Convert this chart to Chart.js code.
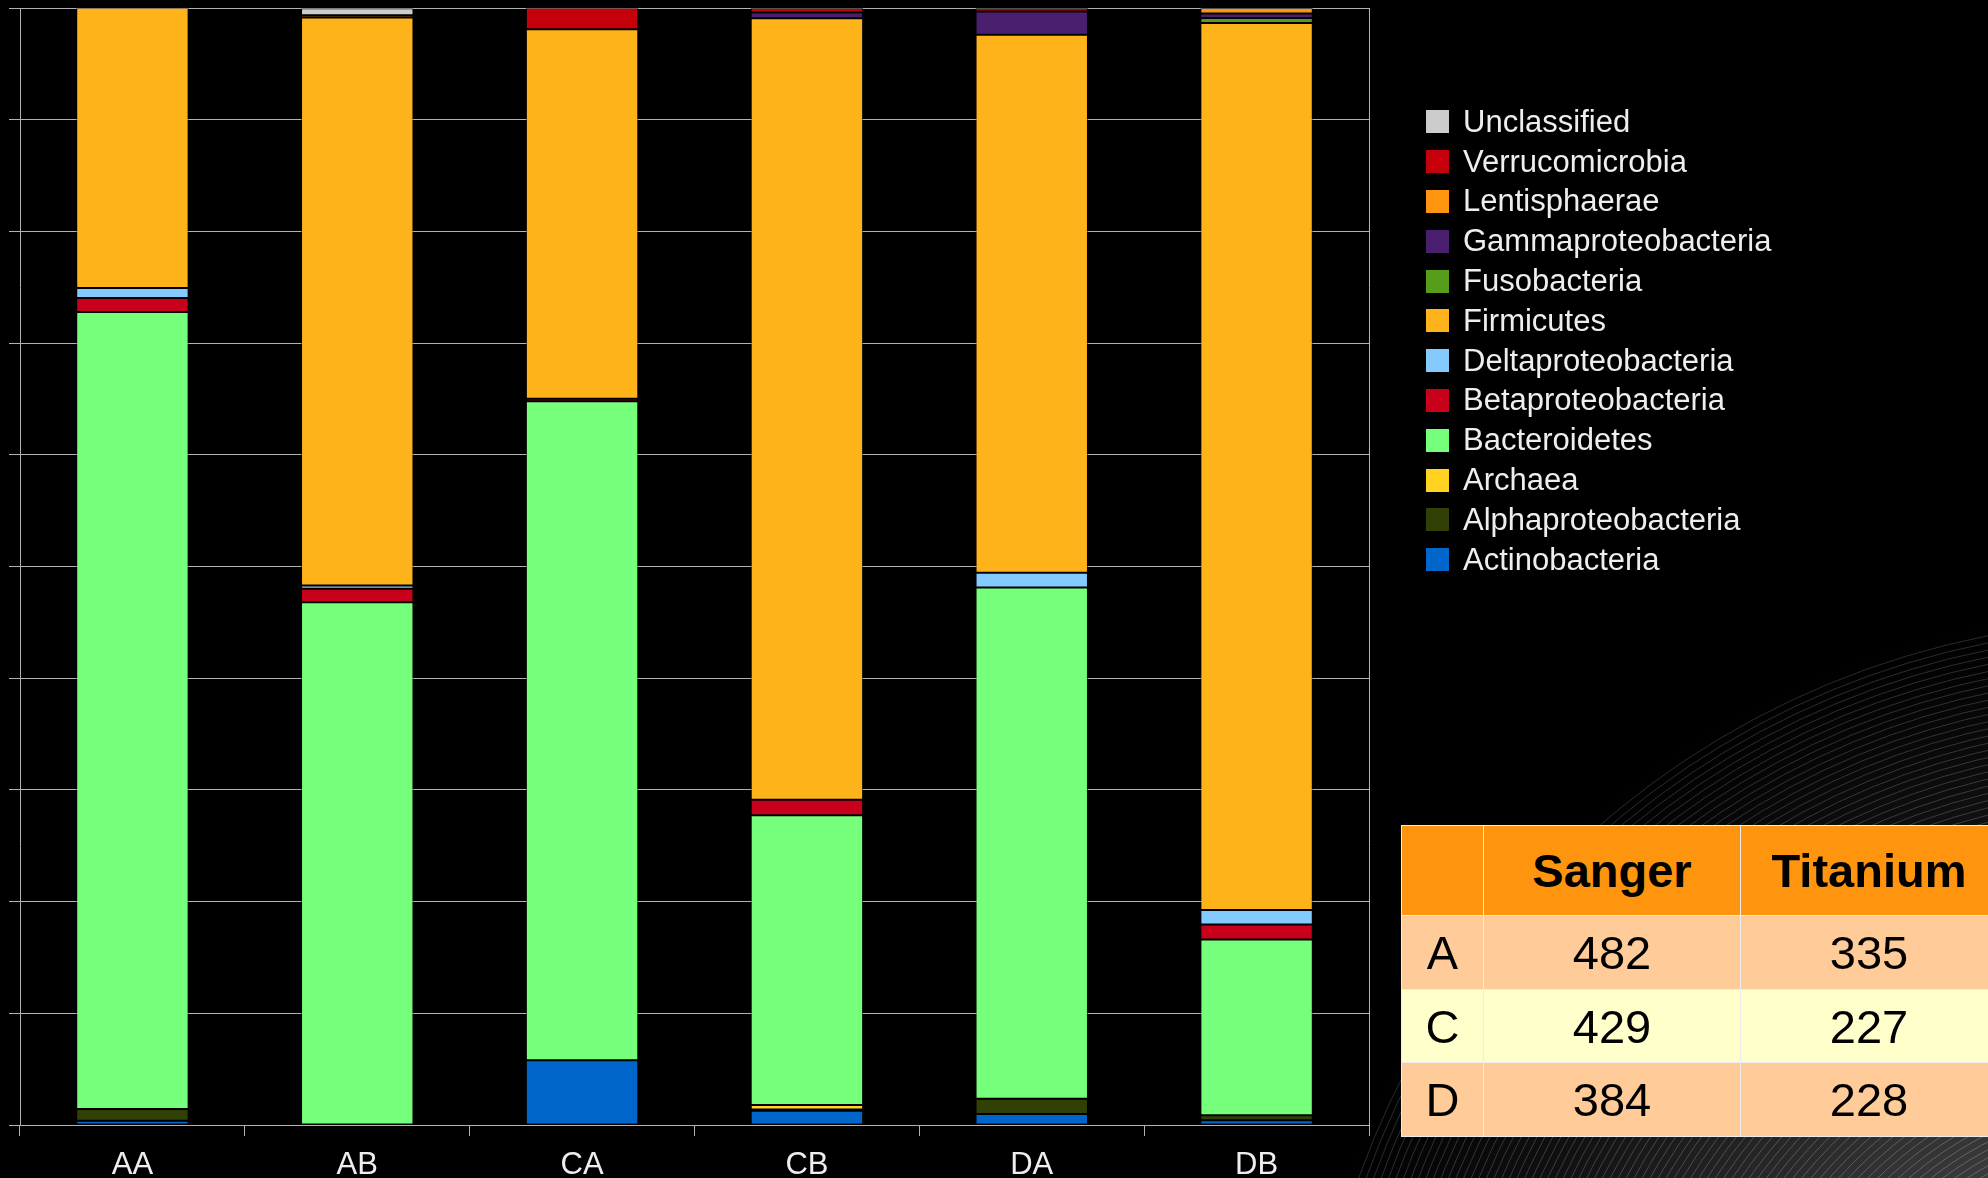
<!DOCTYPE html>
<html>
<head>
<meta charset="utf-8">
<title>Phylum composition</title>
<script src="https://cdn.jsdelivr.net/npm/chart.js@4.4.1/dist/chart.umd.min.js"></script>
<style>
  html, body { margin: 0; padding: 0; background: #000; }
  body { width: 1988px; height: 1178px; position: relative; overflow: hidden; font-family: "Liberation Sans", Arial, sans-serif; }
  #decor { position: absolute; left: 0; top: 0; }
  #chart-wrap { position: absolute; left: 0; top: 0; width: 1400px; height: 1178px; }
  #legend { position: absolute; left: 1426px; top: 102px; color: #eeeeee; font-size: 31px; }
  #legend .row { display: flex; align-items: center; height: 39.8px; white-space: nowrap; }
  #legend .box { width: 23px; height: 23px; margin-right: 14px; flex-shrink: 0; }
  #counts { position: absolute; left: 1401px; top: 825px; width: 596px; table-layout: fixed; border-collapse: collapse; font-size: 47px; color: #000; }
  #counts td, #counts th { border: 1px solid #ececec; padding: 0; text-align: center; overflow: hidden; white-space: nowrap; }
  #counts th { background: #ff950e; font-weight: bold; height: 89px; }
  #counts tr.odd td { background: #ffcc99; }
  #counts tr.even td { background: #ffffcc; }
</style>
</head>
<body>
<canvas id="decor" width="1988" height="1178"></canvas>
<div id="chart-wrap"><canvas id="chart" width="1400" height="1178"></canvas></div>
<div id="legend"></div>
<table id="counts"></table>
<script>
  "use strict";

  // ─── Data (percent of reads per sample) ────────────────────────────────────
  const categories = ["AA", "AB", "CA", "CB", "DA", "DB"];

  const actinobacteria      = [0.38, 0,     5.8,   1.28,  0.98,  0.42];
  const alphaproteobacteria = [1.05, 0,     0,     0.1,   1.37,  0.45];
  const archaea             = [0,    0,     0,     0.42,  0,     0];
  const bacteroidetes       = [71.35, 46.8, 59.0,  25.93, 45.78, 15.74];
  const betaproteobacteria  = [1.25, 1.2,   0.22,  1.38,  0,     1.34];
  const deltaproteobacteria = [0.9,  0.3,   0,     0,     1.31,  1.3];
  const firmicutes          = [25.1, 50.85, 33.08, 69.97, 48.16, 79.41];
  const fusobacteria        = [0,    0,     0,     0,     0,     0.45];
  const gammaproteobacteria = [0,    0,     0,     0.51,  2.09,  0.4];
  const lentisphaerae       = [0,    0.2,   0,     0,     0,     0.49];
  const verrucomicrobia     = [0,    0,     1.92,  0.42,  0.3,   0];
  const unclassified        = [0,    0.63,  0,     0,     0,     0];

  // read counts table
  const tableColumns = ["Sanger", "Titanium"];
  const tableRows = ["A", "C", "D"];
  const sangerCounts = [482, 429, 384];
  const titaniumCounts = [335, 227, 228];

  // bottom → top stacking order
  const series = [
    { label: "Actinobacteria",      data: actinobacteria,      color: "#0066cc" },
    { label: "Alphaproteobacteria", data: alphaproteobacteria, color: "#314004" },
    { label: "Archaea",             data: archaea,             color: "#ffd320" },
    { label: "Bacteroidetes",       data: bacteroidetes,       color: "#76ff7a" },
    { label: "Betaproteobacteria",  data: betaproteobacteria,  color: "#c9001b" },
    { label: "Deltaproteobacteria", data: deltaproteobacteria, color: "#83caff" },
    { label: "Firmicutes",          data: firmicutes,          color: "#ffb31a" },
    { label: "Fusobacteria",        data: fusobacteria,        color: "#579d1c" },
    { label: "Gammaproteobacteria", data: gammaproteobacteria, color: "#4b1f6f" },
    { label: "Lentisphaerae",       data: lentisphaerae,       color: "#ff950e" },
    { label: "Verrucomicrobia",     data: verrucomicrobia,     color: "#c5000b" },
    { label: "Unclassified",        data: unclassified,        color: "#cccccc" },
  ];

  // ─── Background swirl ──────────────────────────────────────────────────────
  (function drawDecor() {
    const c = document.getElementById("decor").getContext("2d");
    const cx = 2150, cy = 1460;
    const g = c.createRadialGradient(cx, cy, 200, cx, cy, 850);
    g.addColorStop(0, "#4a4a4a");
    g.addColorStop(0.35, "#2e2e2e");
    g.addColorStop(0.7, "#111");
    g.addColorStop(1, "#000");
    c.fillStyle = g;
    c.fillRect(0, 0, 1988, 1178);
    c.lineWidth = 1;
    for (let r = 840; r > 200; r -= 7) {
      c.strokeStyle = "rgba(210,210,210," + (0.2 + 0.12 * (840 - r) / 640) + ")";
      c.beginPath();
      c.arc(cx, cy, r, 0, Math.PI * 2);
      c.stroke();
    }
  })();

  // ─── Chart ─────────────────────────────────────────────────────────────────
  Chart.defaults.font.family = "'Liberation Sans', Arial, sans-serif";
  const gridColor = "#b3b3b3";

  new Chart(document.getElementById("chart"), {
    type: "bar",
    data: {
      labels: categories,
      datasets: series.map((s) => ({
        label: s.label,
        data: s.data,
        backgroundColor: s.color,
        borderColor: "rgba(0,0,0,0.55)",
        borderWidth: 1,
        borderSkipped: false,
        barPercentage: 0.5,
        categoryPercentage: 1,
      })),
    },
    options: {
      responsive: false,
      animation: false,
      layout: { padding: { top: 8, left: 9, right: 31, bottom: 0 } },
      plugins: { legend: { display: false }, tooltip: { enabled: false } },
      scales: {
        x: {
          stacked: true,
          grid: { color: gridColor, drawOnChartArea: false, tickLength: 11, offset: true },
          border: { color: gridColor },
          ticks: { color: "#eeeeee", font: { size: 31 }, padding: 11 },
          afterFit: (s) => { s.height = 53; },
        },
        y: {
          stacked: true,
          min: 0,
          max: 100,
          ticks: { display: false, stepSize: 10 },
          grid: { color: gridColor, tickLength: 11 },
          border: { color: gridColor },
          afterFit: (s) => { s.width = 11; },
        },
        yRight: {
          position: "right",
          min: 0,
          max: 100,
          ticks: { display: false },
          grid: { drawOnChartArea: false, drawTicks: false },
          border: { color: gridColor },
          afterFit: (s) => { s.width = 0; },
        },
      },
    },
  });

  // ─── Legend (top → bottom is reverse stacking order) ──────────────────────
  const legend = document.getElementById("legend");
  series.slice().reverse().forEach((s) => {
    const row = document.createElement("div");
    row.className = "row";
    row.innerHTML = `<span class="box" style="background:${s.color}"></span><span>${s.label}</span>`;
    legend.appendChild(row);
  });

  // ─── Counts table ──────────────────────────────────────────────────────────
  const table = document.getElementById("counts");
  let html = `<colgroup><col style="width:82px"><col style="width:257px"><col style="width:257px"></colgroup>`;
  html += `<tr><th></th>` + tableColumns.map((c) => `<th>${c}</th>`).join("") + `</tr>`;
  const rowHeights = [74, 73, 74];
  tableRows.forEach((r, i) => {
    html += `<tr class="${i % 2 ? "even" : "odd"}" style="height:${rowHeights[i]}px"><td>${r}</td><td>${sangerCounts[i]}</td><td>${titaniumCounts[i]}</td></tr>`;
  });
  table.innerHTML = html;
</script>
</body>
</html>
